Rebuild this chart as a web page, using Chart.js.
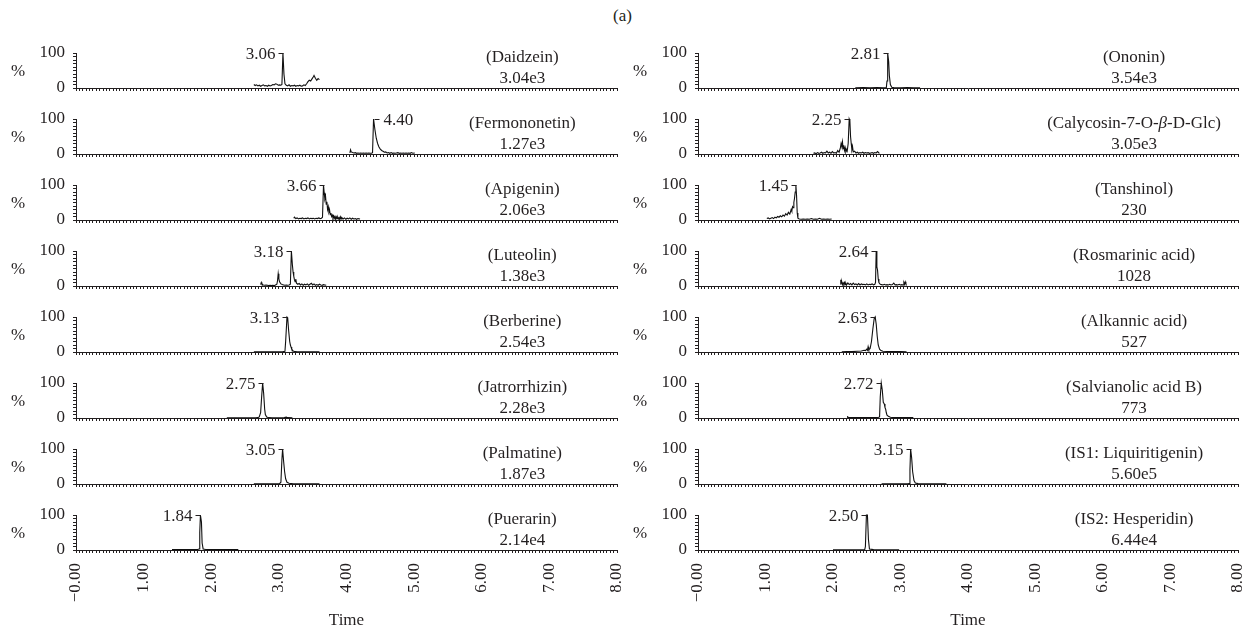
<!DOCTYPE html>
<html>
<head>
<meta charset="utf-8">
<script src="https://cdn.jsdelivr.net/npm/chart.js@4"></script>
<style>
  body { margin: 0; background: #fff; width: 1245px; height: 632px; position: relative; overflow: hidden;
         font-family: "Liberation Serif", "Times New Roman", serif; color: #231f20; }
  canvas { position: absolute; }
  #tag { position: absolute; left: 0; top: 6px; width: 1245px; text-align: center; font-size: 17px; }
</style>
</head>
<body>
<div id="tag">(a)</div>
<script>
// ---- data ----
const leftNames = ['(Daidzein)', '(Fermononetin)', '(Apigenin)', '(Luteolin)', '(Berberine)', '(Jatrorrhizin)', '(Palmatine)', '(Puerarin)'];
const leftIntensity = ['3.04e3', '1.27e3', '2.06e3', '1.38e3', '2.54e3', '2.28e3', '1.87e3', '2.14e4'];
const leftPeaks = ['3.06', '4.40', '3.66', '3.18', '3.13', '2.75', '3.05', '1.84'];

const rightNames = ['(Ononin)', '(Calycosin-7-O-β-D-Glc)', '(Tanshinol)', '(Rosmarinic acid)', '(Alkannic acid)', '(Salvianolic acid B)', '(IS1: Liquiritigenin)', '(IS2: Hesperidin)'];
const rightIntensity = ['3.54e3', '3.05e3', '230', '1028', '527', '773', '5.60e5', '6.44e4'];
const rightPeaks = ['2.81', '2.25', '1.45', '2.64', '2.63', '2.72', '3.15', '2.50'];

const timeTicks = [0, 1, 2, 3, 4, 5, 6, 7, 8];

// traces: [time (min), relative intensity (%)]
const daidzein = [[2.63,10],[2.65,7],[2.67,9],[2.69,6],[2.71,8],[2.73,5],[2.75,7],[2.77,9],[2.79,6],[2.81,7],[2.83,5],[2.85,8],[2.87,6],[2.89,7],[2.91,10],[2.93,9],[2.95,12],[2.97,11],[2.99,8],[3.01,9],[3.03,8],[3.045,10],[3.06,100],[3.075,40],[3.09,12],[3.11,8],[3.13,6],[3.15,9],[3.17,5],[3.19,7],[3.21,6],[3.23,8],[3.25,5],[3.27,7],[3.29,6],[3.31,8],[3.33,5],[3.35,6],[3.37,9],[3.39,7],[3.41,12],[3.43,18],[3.45,22],[3.47,20],[3.49,26],[3.51,32],[3.52,36],[3.54,28],[3.56,22],[3.58,27],[3.60,24]];
const fermononetin = [[4.05,3],[4.06,12],[4.07,6],[4.09,4],[4.11,3],[4.13,4],[4.15,2],[4.17,3],[4.19,2],[4.21,3],[4.23,2],[4.25,3],[4.27,2],[4.29,3],[4.31,2],[4.33,3],[4.35,2],[4.37,2],[4.385,4],[4.40,100],[4.42,70],[4.44,45],[4.46,30],[4.48,20],[4.50,14],[4.52,10],[4.54,8],[4.56,5],[4.58,6],[4.60,3],[4.62,4],[4.64,2],[4.66,4],[4.68,2],[4.70,3],[4.72,2],[4.74,3],[4.76,4],[4.78,2],[4.80,3],[4.82,2],[4.84,3],[4.86,2],[4.88,3],[4.90,2],[4.92,3],[4.94,2],[4.96,4],[4.98,2],[5.01,3]];
const apigenin = [[3.22,5],[3.23,8],[3.25,4],[3.27,6],[3.29,3],[3.31,5],[3.33,4],[3.35,6],[3.37,3],[3.39,5],[3.41,4],[3.43,6],[3.45,3],[3.47,5],[3.49,4],[3.51,5],[3.53,3],[3.55,5],[3.57,4],[3.59,6],[3.61,4],[3.63,5],[3.645,8],[3.66,100],[3.67,78],[3.68,60],[3.69,68],[3.70,45],[3.71,52],[3.72,30],[3.73,38],[3.74,22],[3.75,28],[3.76,15],[3.77,20],[3.78,10],[3.79,14],[3.80,6],[3.81,12],[3.82,5],[3.83,10],[3.84,3],[3.85,9],[3.86,4],[3.87,8],[3.88,3],[3.89,7],[3.90,2],[3.91,9],[3.92,3],[3.93,7],[3.95,3],[3.97,6],[3.99,2],[4.01,5],[4.03,3],[4.05,6],[4.07,2],[4.09,5],[4.11,3],[4.13,4],[4.15,2],[4.17,4],[4.20,3]];
const luteolin = [[2.73,4],[2.74,10],[2.75,5],[2.77,3],[2.79,2],[2.81,3],[2.83,2],[2.85,1],[2.87,2],[2.89,1],[2.91,2],[2.93,1],[2.95,3],[2.97,5],[2.98,15],[2.99,35],[3.00,20],[3.01,12],[3.03,6],[3.05,4],[3.07,3],[3.09,2],[3.11,3],[3.13,2],[3.15,3],[3.17,5],[3.185,100],[3.20,60],[3.21,40],[3.22,28],[3.23,18],[3.24,12],[3.25,20],[3.26,8],[3.28,5],[3.30,7],[3.32,3],[3.34,6],[3.36,2],[3.38,5],[3.40,3],[3.42,6],[3.44,2],[3.46,5],[3.48,8],[3.50,3],[3.52,6],[3.54,2],[3.56,4],[3.58,2],[3.60,5],[3.62,3],[3.64,2],[3.66,4],[3.68,3],[3.70,2]];
const berberine = [[2.63,0.5],[2.70,0.5],[2.80,0.8],[2.90,0.5],[3.00,0.8],[3.06,1],[3.09,2],[3.10,30],[3.12,100],[3.13,98],[3.145,60],[3.16,30],[3.17,20],[3.18,14],[3.19,8],[3.21,3],[3.23,1.5],[3.26,1],[3.30,0.8],[3.40,0.5],[3.50,0.8],[3.60,0.5]];
const jatrorrhizin = [[2.23,0.5],[2.35,0.5],[2.45,0.8],[2.55,0.5],[2.65,0.8],[2.69,1],[2.71,3],[2.73,15],[2.745,60],[2.76,100],[2.775,70],[2.79,25],[2.80,10],[2.82,3],[2.85,1],[2.90,0.8],[3.00,0.5],[3.08,1],[3.11,2.5],[3.13,1],[3.20,0.5]];
const palmatine = [[2.63,0.5],[2.75,0.5],[2.85,0.8],[2.95,0.5],[3.01,1],[3.03,5],[3.045,70],[3.055,100],[3.07,65],[3.085,35],[3.10,15],[3.12,5],[3.15,2],[3.20,1],[3.30,0.5],[3.45,0.8],[3.60,0.5]];
const puerarin = [[1.42,1],[1.50,1.5],[1.58,1],[1.66,1.5],[1.74,1],[1.80,1.5],[1.82,3],[1.83,50],[1.84,100],[1.855,80],[1.865,20],[1.88,3],[1.92,1.5],[2.00,1],[2.10,1.5],[2.20,1],[2.30,1.5],[2.40,1]];

const ononin = [[2.33,0.5],[2.45,1],[2.55,0.5],[2.65,1],[2.75,0.8],[2.79,1],[2.80,20],[2.81,100],[2.825,75],[2.835,35],[2.85,10],[2.87,2],[2.90,1],[3.00,0.8],[3.10,1],[3.20,0.5],[3.29,0.8]];
const calycosin = [[1.71,2],[1.73,3],[1.75,1],[1.77,4],[1.79,2],[1.81,3],[1.83,5],[1.85,2],[1.87,4],[1.89,3],[1.91,8],[1.93,3],[1.95,5],[1.97,2],[1.99,7],[2.01,3],[2.03,4],[2.05,2],[2.07,10],[2.09,5],[2.11,18],[2.12,30],[2.13,22],[2.14,35],[2.15,15],[2.16,25],[2.17,10],[2.18,18],[2.19,6],[2.20,12],[2.21,8],[2.225,30],[2.24,100],[2.25,95],[2.26,50],[2.27,30],[2.28,12],[2.29,20],[2.30,6],[2.32,8],[2.34,3],[2.36,5],[2.38,2],[2.40,4],[2.42,3],[2.44,5],[2.46,2],[2.48,4],[2.50,3],[2.52,4],[2.54,2],[2.56,3],[2.58,4],[2.60,2],[2.62,4],[2.64,3],[2.66,7],[2.68,3],[2.69,2]];
const tanshinol = [[1.02,4],[1.04,6],[1.06,3],[1.08,5],[1.10,7],[1.12,4],[1.14,8],[1.16,6],[1.18,10],[1.20,8],[1.22,12],[1.24,9],[1.26,14],[1.28,11],[1.30,18],[1.32,14],[1.34,22],[1.36,17],[1.38,30],[1.39,25],[1.40,38],[1.41,35],[1.42,50],[1.43,62],[1.44,80],[1.45,100],[1.46,70],[1.47,20],[1.48,5],[1.50,3],[1.53,2],[1.56,3],[1.59,2],[1.62,3],[1.65,2],[1.68,4],[1.71,2],[1.74,3],[1.77,2],[1.80,5],[1.83,2],[1.86,3],[1.89,2],[1.92,3],[1.95,2],[1.98,3]];
const rosmarinic = [[2.11,5],[2.115,18],[2.12,8],[2.13,12],[2.14,4],[2.15,9],[2.16,5],[2.17,10],[2.18,4],[2.19,8],[2.20,3],[2.22,9],[2.24,4],[2.26,7],[2.28,3],[2.30,8],[2.32,4],[2.34,6],[2.36,3],[2.38,7],[2.40,3],[2.42,6],[2.44,4],[2.46,5],[2.48,3],[2.50,6],[2.52,3],[2.54,5],[2.56,4],[2.58,6],[2.60,3],[2.62,5],[2.63,10],[2.64,100],[2.65,55],[2.66,45],[2.67,20],[2.68,10],[2.70,5],[2.72,4],[2.74,3],[2.76,5],[2.78,3],[2.80,4],[2.82,3],[2.84,5],[2.86,3],[2.88,4],[2.90,8],[2.92,3],[2.94,4],[2.96,3],[2.98,5],[3.00,3],[3.02,4],[3.04,3],[3.05,10],[3.06,5],[3.07,12],[3.08,6],[3.09,4]];
const alkannic = [[2.13,0.5],[2.20,1],[2.28,1],[2.36,2],[2.42,3],[2.46,5],[2.48,4],[2.50,8],[2.51,5],[2.52,15],[2.53,6],[2.55,10],[2.57,30],[2.59,65],[2.61,95],[2.625,100],[2.64,80],[2.655,45],[2.67,20],[2.69,8],[2.71,4],[2.74,2],[2.80,1.5],[2.90,1],[3.00,1],[3.09,0.5]];
const salvianolicB = [[2.21,1],[2.215,6],[2.22,1],[2.30,1],[2.40,1.5],[2.50,1],[2.60,1.5],[2.66,1],[2.69,3],[2.70,60],[2.715,100],[2.73,80],[2.745,45],[2.76,40],[2.77,30],[2.78,25],[2.79,15],[2.80,8],[2.82,5],[2.85,2],[2.90,1],[3.00,1],[3.10,1.5],[3.19,1]];
const liquiritigenin = [[2.72,0.5],[2.85,0.8],[3.00,0.5],[3.10,0.8],[3.13,1],[3.14,40],[3.15,100],[3.165,75],[3.18,35],[3.20,10],[3.22,3],[3.26,1],[3.35,0.8],[3.50,0.5],[3.68,0.5]];
const hesperidin = [[2.00,0.5],[2.15,0.8],[2.30,0.5],[2.42,0.8],[2.47,1],[2.48,10],[2.495,100],[2.51,100],[2.525,30],[2.54,3],[2.60,1],[2.70,0.5],[2.85,0.8],[2.98,0.5]];

const leftTraces = [daidzein, fermononetin, apigenin, luteolin, berberine, jatrorrhizin, palmatine, puerarin];
const rightTraces = [ononin, calycosin, tanshinol, rosmarinic, alkannic, salvianolicB, liquiritigenin, hesperidin];

// ---- layout ----
const FONT = '"Liberation Serif", "Times New Roman", serif';
const FS = 17;
const INK = '#231f20';
const ROW_TOP = 53, ROW_STEP = 66, PLOT_H = 35, PAD_TOP = 16, X_H = 10;

function drawRich(ctx, text, cx, cy) {
  // italic only for greek beta
  const parts = text.split(/(β)/).filter(p => p !== '');
  const fontFor = p => (p === 'β' ? 'italic ' : '') + FS + 'px ' + FONT;
  let total = 0;
  parts.forEach(p => { ctx.font = fontFor(p); total += ctx.measureText(p).width; });
  let x = cx - total / 2;
  ctx.textAlign = 'left';
  parts.forEach(p => { ctx.font = fontFor(p); ctx.fillText(p, x, cy); x += ctx.measureText(p).width; });
  ctx.font = FS + 'px ' + FONT;
}

const chromText = {
  id: 'chromText',
  afterDraw(chart, args, o) {
    const {ctx, chartArea: a} = chart;
    const x = chart.scales.x, y = chart.scales.y;
    ctx.save();
    ctx.fillStyle = INK;
    ctx.strokeStyle = INK;
    ctx.lineWidth = 1;
    ctx.font = FS + 'px ' + FONT;
    ctx.textBaseline = 'middle';
    ctx.textAlign = 'center';
    ctx.fillText('%', 18, (a.top + a.bottom) / 2 + 1);

    const px = Math.round(x.getPixelForValue(o.peakT)) + 0.5;
    const py = Math.round(y.getPixelForValue(100)) + 0.5;
    ctx.beginPath();
    if (o.side === 'right') {
      ctx.moveTo(px, py); ctx.lineTo(px + 5, py);
      ctx.textAlign = 'left';
      ctx.fillText(o.peak, px + 9, py + 1);
    } else {
      ctx.moveTo(px - 5, py); ctx.lineTo(px, py);
      ctx.textAlign = 'right';
      ctx.fillText(o.peak, px - 8, py + 1);
    }
    ctx.stroke();

    const cx = x.getPixelForValue(o.labelT);
    drawRich(ctx, o.name, cx, a.top + 5);
    ctx.textAlign = 'center';
    ctx.fillText(o.value, cx, a.top + 26);
    ctx.restore();
  }
};

function tickText(v) {
  const r = Math.round(v);
  if (Math.abs(v - r) > 1e-6 || !timeTicks.includes(r)) return '';
  return r === 0 ? '\u22120.00' : r.toFixed(2);
}

function makeChart(col, row, trace, name, value, peak) {
  const bottom = row === 7;
  const top = ROW_TOP + ROW_STEP * row - PAD_TOP;
  const cv = document.createElement('canvas');
  const w = col === 0 ? 622 : 623;
  const h = bottom ? 632 - top : PAD_TOP + PLOT_H + X_H;
  cv.width = w; cv.height = h;
  cv.style.left = (col === 0 ? 0 : 622) + 'px';
  cv.style.top = top + 'px';
  document.body.appendChild(cv);

  let peakT = trace[0][0], best = -1;
  trace.forEach(([t, v]) => { if (v > best) { best = v; peakT = t; } });

  new Chart(cv.getContext('2d'), {
    type: 'line',
    data: {
      datasets: [{
        data: trace.map(([t, v]) => ({x: t, y: v})),
        borderColor: '#111',
        borderWidth: 1.1,
        pointRadius: 0,
        tension: 0,
        fill: false,
        clip: 6
      }]
    },
    options: {
      responsive: false,
      animation: false,
      devicePixelRatio: 1,
      layout: {padding: {top: PAD_TOP, right: col === 0 ? 5 : 7, left: 0, bottom: 0}},
      plugins: {
        legend: {display: false},
        tooltip: {enabled: false},
        chromText: {
          name: name, value: value, peak: peak, peakT: peakT,
          side: name === '(Fermononetin)' ? 'right' : 'left',
          labelT: col === 0 ? 6.6 : 6.46
        }
      },
      scales: {
        x: {
          type: 'linear', min: 0, max: 8,
          afterFit: s => {
            s.height = bottom ? h - PAD_TOP - PLOT_H : X_H;
            s.paddingLeft = 0; s.paddingRight = 0;
          },
          border: {color: INK, width: 1},
          grid: {drawOnChartArea: false, drawTicks: true, tickLength: 3, color: INK},
          ticks: {
            stepSize: 0.05, autoSkip: false,
            minRotation: bottom ? 90 : 0, maxRotation: bottom ? 90 : 0,
            padding: 10, color: INK, font: {family: FONT, size: FS},
            callback: v => bottom ? tickText(v) : ''
          },
          title: {display: bottom, text: 'Time', color: INK, font: {family: FONT, size: FS}, padding: {top: 0, bottom: 1}}
        },
        y: {
          min: 0, max: 100,
          afterFit: s => {
            s.width = 76;
            s.paddingTop = 0; s.paddingBottom = 0;
          },
          border: {color: INK, width: 1},
          grid: {drawOnChartArea: false, drawTicks: true, tickLength: 3, color: INK},
          ticks: {
            stepSize: 10, autoSkip: false, padding: 8, color: INK, font: {family: FONT, size: FS},
            callback: v => (v === 0 || v === 100) ? String(v) : ''
          }
        }
      }
    },
    plugins: [chromText]
  });
}

leftTraces.forEach((tr, i) => makeChart(0, i, tr, leftNames[i], leftIntensity[i], leftPeaks[i]));
rightTraces.forEach((tr, i) => makeChart(1, i, tr, rightNames[i], rightIntensity[i], rightPeaks[i]));
</script>
</body>
</html>
